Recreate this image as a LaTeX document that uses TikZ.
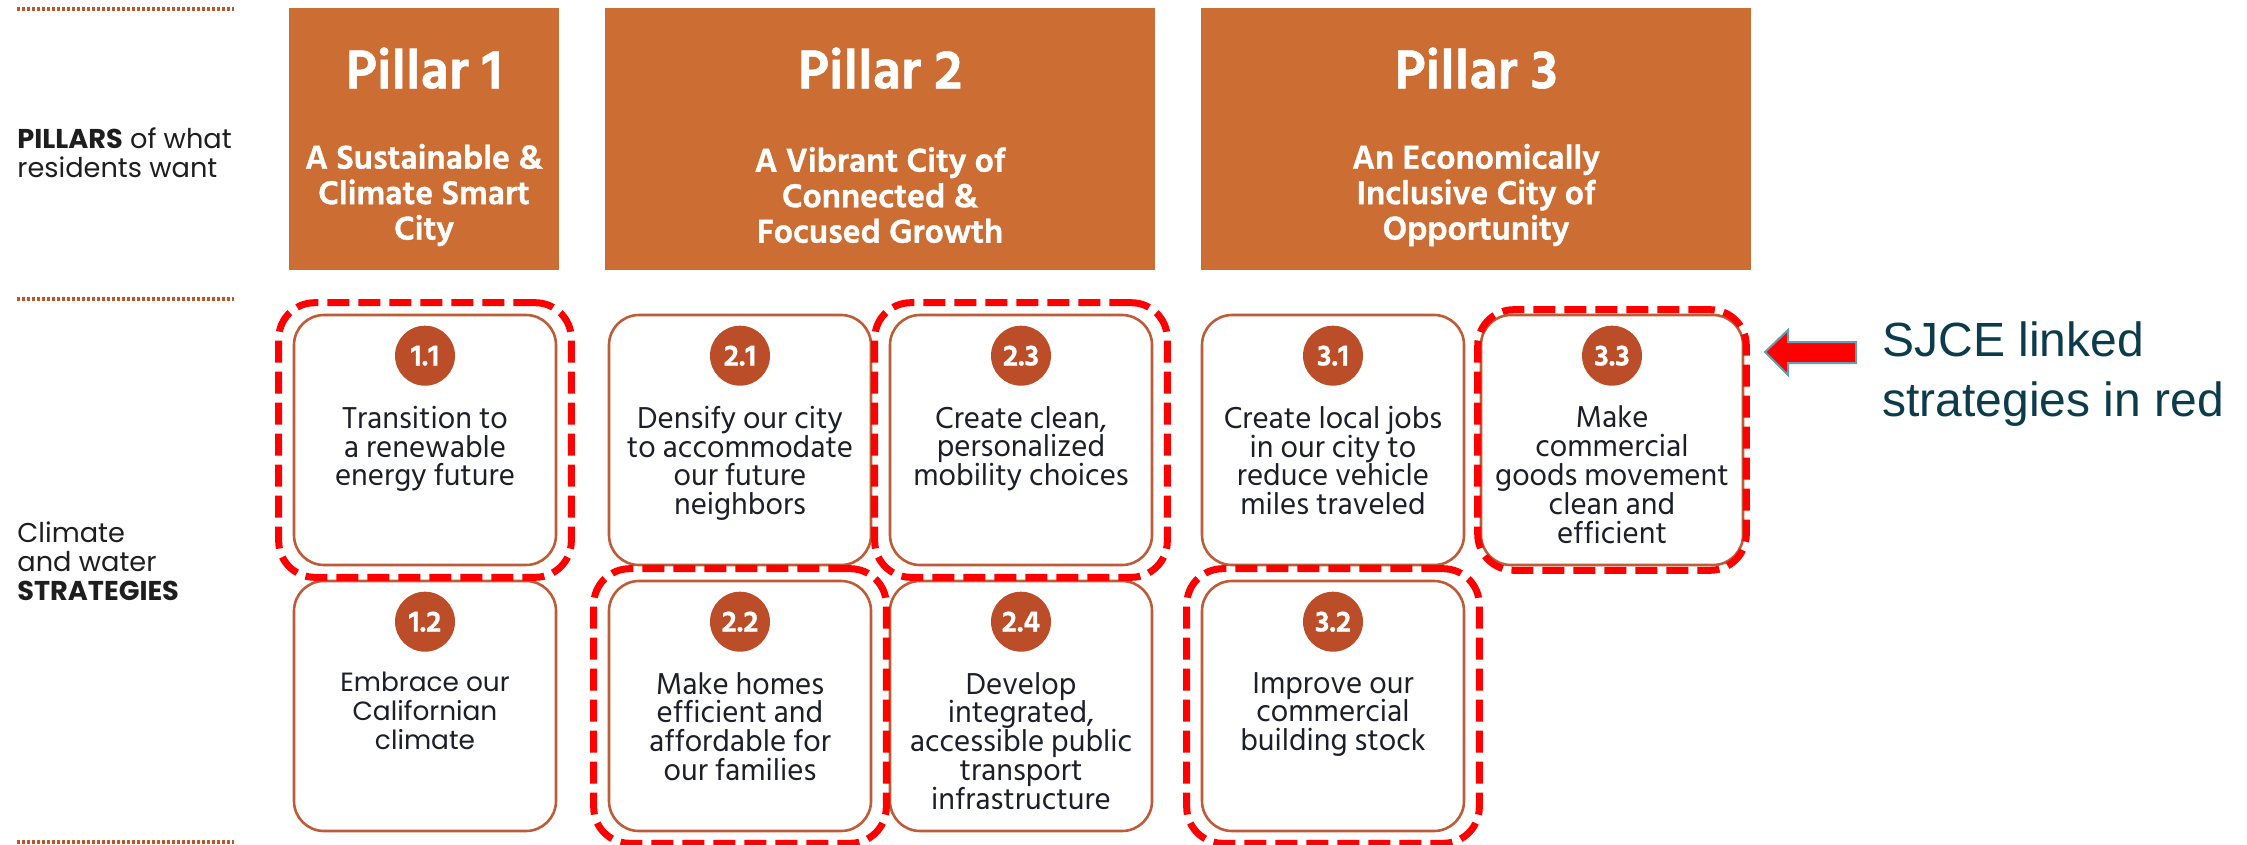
\documentclass[tikz,border=0pt]{standalone}
\usepackage{fontspec}
\setmainfont{Hind Siliguri}
\newfontfamily\heavyf{Hind Siliguri}[FakeBold=1]
\newfontfamily\montf{Poppins}
\newfontfamily\arialf{Liberation Sans}
\usetikzlibrary{fit}
\definecolor{pillarc}{RGB}{204,110,51}
\definecolor{badgec}{RGB}{187,78,40}
\definecolor{boxc}{RGB}{190,92,56}
\definecolor{dotc}{RGB}{192,85,42}
\definecolor{labelc}{RGB}{30,30,30}
\definecolor{txtc}{RGB}{28,30,40}
\definecolor{sjcec}{RGB}{12,60,76}
\definecolor{arrowc}{RGB}{100,160,175}
\begin{document}
\begin{tikzpicture}[x=0.5pt,y=-0.5pt,
 pillarbox/.style={fill=pillarc, inner sep=0, minimum height=131pt},
 ptitle/.style={text=white, inner sep=0, font=\heavyf\bfseries\fontsize{28}{30}\selectfont},
 psub/.style={text=white, align=center, inner sep=0, font=\heavyf\bfseries\fontsize{17}{17.75}\selectfont},
 stratbox/.style={draw=boxc, line width=1.3pt, rounded corners=15pt, fill=white, minimum width=131pt, minimum height=125pt, inner sep=0},
 badge/.style={circle, fill=badgec, minimum size=30pt, inner sep=0, text=white, font=\heavyf\bfseries\fontsize{15}{15}\selectfont},
 strattext/.style={anchor=north, align=center, text=txtc, inner sep=0, font=\fontsize{15.5}{14.4}\selectfont},
 sjce/.style={draw=red, line width=3.5pt, dash pattern=on 11pt off 4.5pt, rounded corners=18pt, inner xsep=7pt, inner ysep=5.5pt},
 dotline/.style={draw=dotc, line width=2pt, dash pattern=on 1.5pt off 1pt},
 sidelabel/.style={anchor=west, align=left, text=labelc, inner sep=0, font=\montf\fontsize{13.6}{14.5}\selectfont},
]
\useasboundingbox (0,0) rectangle (2247,845);
\fill[white] (0,0) rectangle (2247,845);

% dotted separators
\draw[dotline] (17,9) -- (234,9);
\draw[dotline] (17,299) -- (234,299);
\draw[dotline] (17,842) -- (234,842);

% side labels
\node[sidelabel] (lp) at (17,153) {\textbf{PILLARS} of what\\residents want};
\node[sidelabel] (ls) at (17,561) {Climate\\and water\\\textbf{STRATEGIES}};

% pillars
\node[pillarbox, minimum width=135pt] (p1) at (424,139) {};
\node[ptitle] (p1t) at (424,68) {Pillar 1};
\node[psub] (p1s) at (424,195) {A Sustainable \&\\Climate Smart\\City};

\node[pillarbox, minimum width=275pt] (p2) at (880,139) {};
\node[ptitle] (p2t) at (880,68) {Pillar 2};
\node[psub] (p2s) at (880,195) {A Vibrant City of\\Connected \&\\Focused Growth};

\node[pillarbox, minimum width=275pt] (p3) at (1476,139) {};
\node[ptitle] (p3t) at (1476,68) {Pillar 3};
\node[psub] (p3s) at (1476,195) {An Economically\\Inclusive City of\\Opportunity};

% strategies row 1
\node[stratbox] (s11) at (425,440) {};
\node[badge] (b11) at ([yshift=-21pt]s11.north) {1.1};
\node[strattext] (t11) at ([yshift=-46pt]s11.north) {Transition to\\a renewable\\energy future};

\node[stratbox] (s21) at (740,440) {};
\node[badge] (b21) at ([yshift=-21pt]s21.north) {2.1};
\node[strattext] (t21) at ([yshift=-46pt]s21.north) {Densify our city\\to accommodate\\our future\\neighbors};

\node[stratbox] (s23) at (1021,440) {};
\node[badge] (b23) at ([yshift=-21pt]s23.north) {2.3};
\node[strattext] (t23) at ([yshift=-46pt]s23.north) {Create clean,\\personalized\\mobility choices};

\node[stratbox] (s31) at (1333,440) {};
\node[badge] (b31) at ([yshift=-21pt]s31.north) {3.1};
\node[strattext] (t31) at ([yshift=-46pt]s31.north) {Create local jobs\\in our city to\\reduce vehicle\\miles traveled};

\node[stratbox] (s33) at (1612,440) {};
\node[badge] (b33) at ([yshift=-21pt]s33.north) {3.3};
\node[strattext] (t33) at ([yshift=-46pt]s33.north) {Make\\commercial\\goods movement\\clean and\\efficient};

% strategies row 2
\node[stratbox] (s12) at (425,706) {};
\node[badge] (b12) at ([yshift=-21pt]s12.north) {1.2};
\node[strattext, font=\montf\fontsize{13.2}{14.4}\selectfont] (t12) at ([yshift=-46pt]s12.north) {Embrace our\\Californian\\climate};

\node[stratbox] (s22) at (740,706) {};
\node[badge] (b22) at ([yshift=-21pt]s22.north) {2.2};
\node[strattext] (t22) at ([yshift=-46pt]s22.north) {Make homes\\efficient and\\affordable for\\our families};

\node[stratbox] (s24) at (1021,706) {};
\node[badge] (b24) at ([yshift=-21pt]s24.north) {2.4};
\node[strattext] (t24) at ([yshift=-46pt]s24.north) {Develop\\integrated,\\accessible public\\transport\\infrastructure};

\node[stratbox] (s32) at (1333,706) {};
\node[badge] (b32) at ([yshift=-21pt]s32.north) {3.2};
\node[strattext] (t32) at ([yshift=-46pt]s32.north) {Improve our\\commercial\\building stock};

% SJCE linked outlines
\node[sjce, fit=(s11)] (r11) {};
\node[sjce, fit=(s23)] (r23) {};
\node[sjce, fit=(s33), inner xsep=1pt, inner ysep=2pt] (r33) {};
\node[sjce, fit=(s22)] (r22) {};
\node[sjce, fit=(s32)] (r32) {};

% arrow and note
\draw[draw=arrowc, fill=red, line width=1pt] (1765,352) -- (1788,330) -- (1788,342) -- (1856,342) -- (1856,363) -- (1788,363) -- (1788,375) -- cycle;
\node[anchor=west, align=left, text=sjcec, inner sep=0, font=\arialf\fontsize{24}{30}\selectfont] (note) at (1882,374) {SJCE linked\\strategies in red};
\end{tikzpicture}
\end{document}
